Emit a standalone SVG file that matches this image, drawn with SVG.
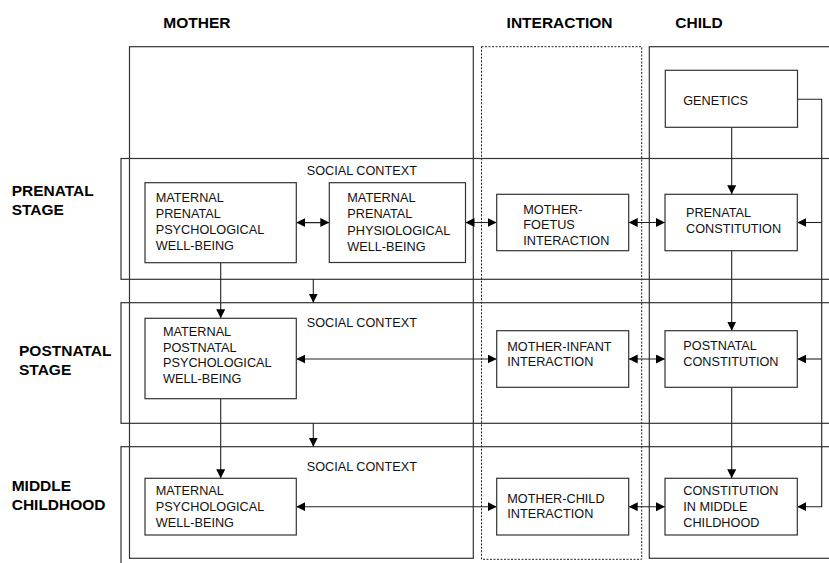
<svg xmlns="http://www.w3.org/2000/svg" width="829" height="563" viewBox="0 0 829 563">
<style>
  .frame{fill:none;stroke:#333;stroke-width:1.2}
  .dot{fill:none;stroke:#222;stroke-width:1;stroke-dasharray:2 1.5}
  .box{fill:#fff;stroke:#333;stroke-width:1.2}
  .t{font-family:"Liberation Sans",Arial,sans-serif;font-size:12.7px;fill:#111}
  .h{font-family:"Liberation Sans",Arial,sans-serif;font-size:15.5px;font-weight:bold;fill:#000}
  .c line,.c path{fill:none;stroke:#222;stroke-width:1.1}
  .a{marker-end:url(#ah)}
  .b{marker-end:url(#ah);marker-start:url(#ah)}
</style>
<defs>
  <marker id="ah" markerUnits="userSpaceOnUse" markerWidth="10" markerHeight="10" refX="9" refY="4.5" orient="auto-start-reverse">
    <path d="M0,0 L9,4.5 L0,9 z" fill="#000"/>
  </marker>
</defs>
<rect width="829" height="563" fill="#fff"/>

<g id="headers">
  <text class="h" x="163.3" y="27.8">MOTHER</text>
  <text class="h" x="506.6" y="27.8">INTERACTION</text>
  <text class="h" x="675.3" y="27.8">CHILD</text>
  <text class="h" x="11.7" y="195.5">PRENATAL</text>
  <text class="h" x="11.7" y="214.5">STAGE</text>
  <text class="h" x="19" y="355.5">POSTNATAL</text>
  <text class="h" x="19" y="374.5">STAGE</text>
  <text class="h" x="11.7" y="491">MIDDLE</text>
  <text class="h" x="11.7" y="510">CHILDHOOD</text>
</g>

<g id="columns">
  <rect class="frame" x="129.5" y="46.7" width="343.8" height="511.6"/>
  <rect class="dot" x="481.5" y="46.7" width="160.2" height="512.6"/>
  <rect class="frame" x="649.3" y="46.7" width="200" height="511.6"/>
</g>

<g id="social-context">
  <rect class="frame" x="121" y="158.5" width="730" height="120.8"/>
  <rect class="frame" x="121" y="302.7" width="730" height="120.6"/>
  <rect class="frame" x="121" y="446.7" width="730" height="130"/>
  <text class="t" x="306.7" y="175">SOCIAL CONTEXT</text>
  <text class="t" x="306.7" y="326.5">SOCIAL CONTEXT</text>
  <text class="t" x="306.7" y="471">SOCIAL CONTEXT</text>
</g>

<g class="c" id="connectors">
  <line class="b" x1="296.3" y1="222.6" x2="329.3" y2="222.6"/>
  <line class="b" x1="465.5" y1="222.5" x2="496.7" y2="222.5"/>
  <line class="b" x1="628.7" y1="222.5" x2="665" y2="222.5"/>
  <line class="a" x1="731.7" y1="127.3" x2="731.7" y2="194.3"/>
  <path class="a" d="M797.5,99.3 H821.7 V506.7 H797.3"/>
  <line class="a" x1="821.7" y1="222.5" x2="797.3" y2="222.5"/>
  <line class="a" x1="821.7" y1="359" x2="797.3" y2="359"/>
  <line class="a" x1="731.7" y1="250.7" x2="731.7" y2="330.7"/>
  <line class="a" x1="731.7" y1="387.3" x2="731.7" y2="478.3"/>
  <line class="a" x1="220.7" y1="262.7" x2="220.7" y2="318.3"/>
  <line class="a" x1="220.7" y1="398.7" x2="220.7" y2="478.3"/>
  <line class="a" x1="313.3" y1="279.3" x2="313.3" y2="302.7"/>
  <line class="a" x1="313.3" y1="423.3" x2="313.3" y2="446.7"/>
  <line class="b" x1="296.3" y1="359" x2="496.7" y2="359"/>
  <line class="b" x1="628.7" y1="359" x2="665" y2="359"/>
  <line class="b" x1="296.3" y1="506.7" x2="496.7" y2="506.7"/>
  <line class="b" x1="628.7" y1="506.7" x2="665" y2="506.7"/>
</g>

<g id="genetics">
  <rect class="box" x="665.3" y="70.3" width="132.2" height="57"/>
  <text class="t" x="683.2" y="104.5">GENETICS</text>
</g>
<g id="maternal-prenatal-psych">
  <rect class="box" x="145" y="182.7" width="151.3" height="80"/>
  <text class="t" x="155.7" y="201.7">MATERNAL</text>
  <text class="t" x="155.7" y="217.7">PRENATAL</text>
  <text class="t" x="155.7" y="234">PSYCHOLOGICAL</text>
  <text class="t" x="155.7" y="250">WELL-BEING</text>
</g>
<g id="maternal-prenatal-phys">
  <rect class="box" x="329.3" y="182.7" width="136.2" height="79.8"/>
  <text class="t" x="347.3" y="202">MATERNAL</text>
  <text class="t" x="347.3" y="218">PRENATAL</text>
  <text class="t" x="347.3" y="234.5">PHYSIOLOGICAL</text>
  <text class="t" x="347.3" y="250.5">WELL-BEING</text>
</g>
<g id="mother-foetus">
  <rect class="box" x="496.7" y="194.3" width="132" height="56.4"/>
  <text class="t" x="523.3" y="214">MOTHER-</text>
  <text class="t" x="523.3" y="229">FOETUS</text>
  <text class="t" x="523.3" y="245">INTERACTION</text>
</g>
<g id="prenatal-constitution">
  <rect class="box" x="665" y="194.3" width="132.3" height="56.4"/>
  <text class="t" x="686" y="217.2">PRENATAL</text>
  <text class="t" x="686" y="233.4">CONSTITUTION</text>
</g>
<g id="maternal-postnatal-psych">
  <rect class="box" x="145" y="318.3" width="151.3" height="80.4"/>
  <text class="t" x="163" y="335.5">MATERNAL</text>
  <text class="t" x="163" y="351.8">POSTNATAL</text>
  <text class="t" x="163" y="367.4">PSYCHOLOGICAL</text>
  <text class="t" x="163" y="383">WELL-BEING</text>
</g>
<g id="mother-infant">
  <rect class="box" x="496.7" y="330.7" width="132" height="56.6"/>
  <text class="t" x="507.3" y="350.7">MOTHER-INFANT</text>
  <text class="t" x="507.3" y="366.4">INTERACTION</text>
</g>
<g id="postnatal-constitution">
  <rect class="box" x="665" y="330.7" width="132.3" height="56.6"/>
  <text class="t" x="683.3" y="349.7">POSTNATAL</text>
  <text class="t" x="683.3" y="365.7">CONSTITUTION</text>
</g>
<g id="maternal-psych">
  <rect class="box" x="145" y="478.3" width="151.3" height="56.7"/>
  <text class="t" x="155.7" y="494.7">MATERNAL</text>
  <text class="t" x="155.7" y="510.7">PSYCHOLOGICAL</text>
  <text class="t" x="155.7" y="527">WELL-BEING</text>
</g>
<g id="mother-child">
  <rect class="box" x="496.7" y="478.3" width="132" height="56.7"/>
  <text class="t" x="507.3" y="503">MOTHER-CHILD</text>
  <text class="t" x="507.3" y="518">INTERACTION</text>
</g>
<g id="constitution-middle-childhood">
  <rect class="box" x="665" y="478.3" width="132.3" height="56.7"/>
  <text class="t" x="683.3" y="494.7">CONSTITUTION</text>
  <text class="t" x="683.3" y="510.7">IN MIDDLE</text>
  <text class="t" x="683.3" y="527">CHILDHOOD</text>
</g>
</svg>
